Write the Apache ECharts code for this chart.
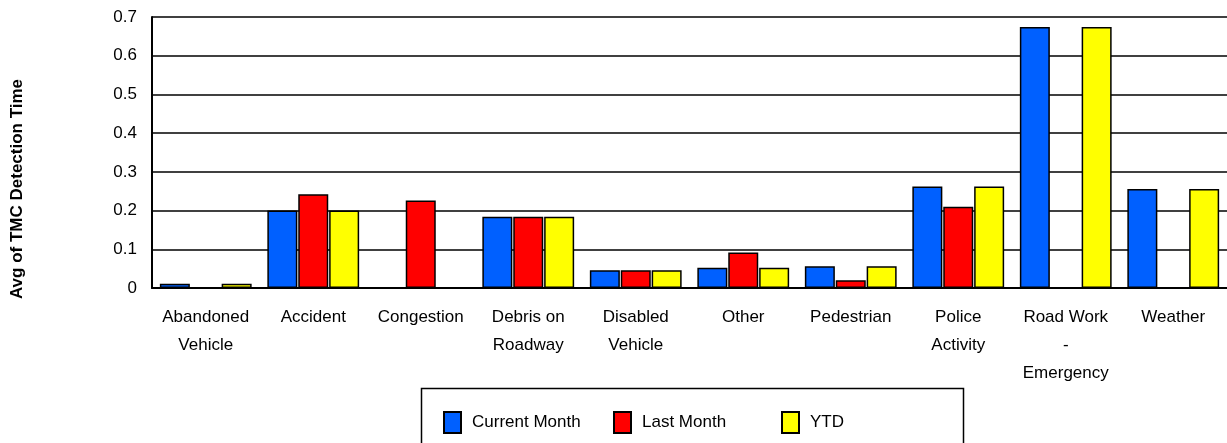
<!DOCTYPE html>
<html>
<head>
<meta charset="utf-8">
<script src="https://cdn.jsdelivr.net/npm/echarts@6/dist/echarts.min.js"></script>
<style>html,body{margin:0;padding:0;background:#fff;}#c{width:1227px;height:443px;}</style>
</head>
<body>
<div id="c"></div>
<script>
const categories = ["Abandoned\nVehicle", "Accident", "Congestion", "Debris on\nRoadway", "Disabled\nVehicle", "Other", "Pedestrian", "Police\nActivity", "Road Work\n-\nEmergency", "Weather"];
const currentMonth = [0.011, 0.200, null, 0.184, 0.046, 0.052, 0.056, 0.262, 0.674, 0.256];
const lastMonth    = [0.001, 0.242, 0.226, 0.184, 0.046, 0.092, 0.020, 0.210, null, null];
const ytd          = [0.011, 0.200, null, 0.184, 0.046, 0.052, 0.056, 0.262, 0.674, 0.256];
const yTicks = { min: 0, max: 0.7, interval: 0.1 };
const yName = "Avg of TMC Detection Time";
const seriesNames = ["Current Month", "Last Month", "YTD"];
const colors = ["#0060ff", "#ff0000", "#ffff00"];

const font = "Liberation Sans, Arial, sans-serif";
const chart = echarts.init(document.getElementById('c'), null, {renderer: 'canvas'});
const dataSets = [currentMonth, lastMonth, ytd];
const legendLefts = [443, 613, 781];
chart.setOption({
  animation: false,
  backgroundColor: '#fff',
  grid: { left: 152, top: 17, right: -4, bottom: 155, containLabel: false },
  xAxis: {
    type: 'category', data: categories,
    axisLine: { lineStyle: { color: '#000', width: 2 } },
    axisTick: { show: false },
    axisLabel: { color: '#000', fontFamily: font, fontSize: 17, lineHeight: 28, margin: 15, interval: 0 }
  },
  yAxis: {
    type: 'value', min: yTicks.min, max: yTicks.max, interval: yTicks.interval,
    axisLine: { show: true, lineStyle: { color: '#000', width: 2 } },
    axisTick: { show: false },
    axisLabel: { color: '#000', fontFamily: font, fontSize: 17, margin: 15 },
    splitLine: { lineStyle: { color: '#000', width: 1.6 } }
  },
  legend: legendLefts.map((l, i) => ({
    data: [seriesNames[i]], left: l, top: 411, itemWidth: 17, itemHeight: 21, itemGap: 0,
    icon: 'rect', selectedMode: false, padding: 0,
    textStyle: { color: '#000', fontFamily: font, fontSize: 17, padding: [0, 0, 0, 6] }
  })),
  graphic: [
    { type: 'rect', shape: { x: 421.5, y: 388.5, width: 542, height: 60 }, style: { fill: 'none', stroke: '#000', lineWidth: 1.5 }, z: 0 },
    { type: 'text', x: 17, y: 189, rotation: Math.PI / 2,
      style: { text: yName, fontFamily: font, fontSize: 17, fontWeight: 'bold', fill: '#000', textAlign: 'center', textVerticalAlign: 'middle' } }
  ],
  series: dataSets.map((d, i) => ({
    name: seriesNames[i], type: 'bar', data: d, barWidth: 30, barGap: '3%', barCategoryGap: '14%',
    itemStyle: { color: colors[i], borderColor: '#000', borderWidth: 1.5 }
  }))
});
</script>
</body>
</html>
